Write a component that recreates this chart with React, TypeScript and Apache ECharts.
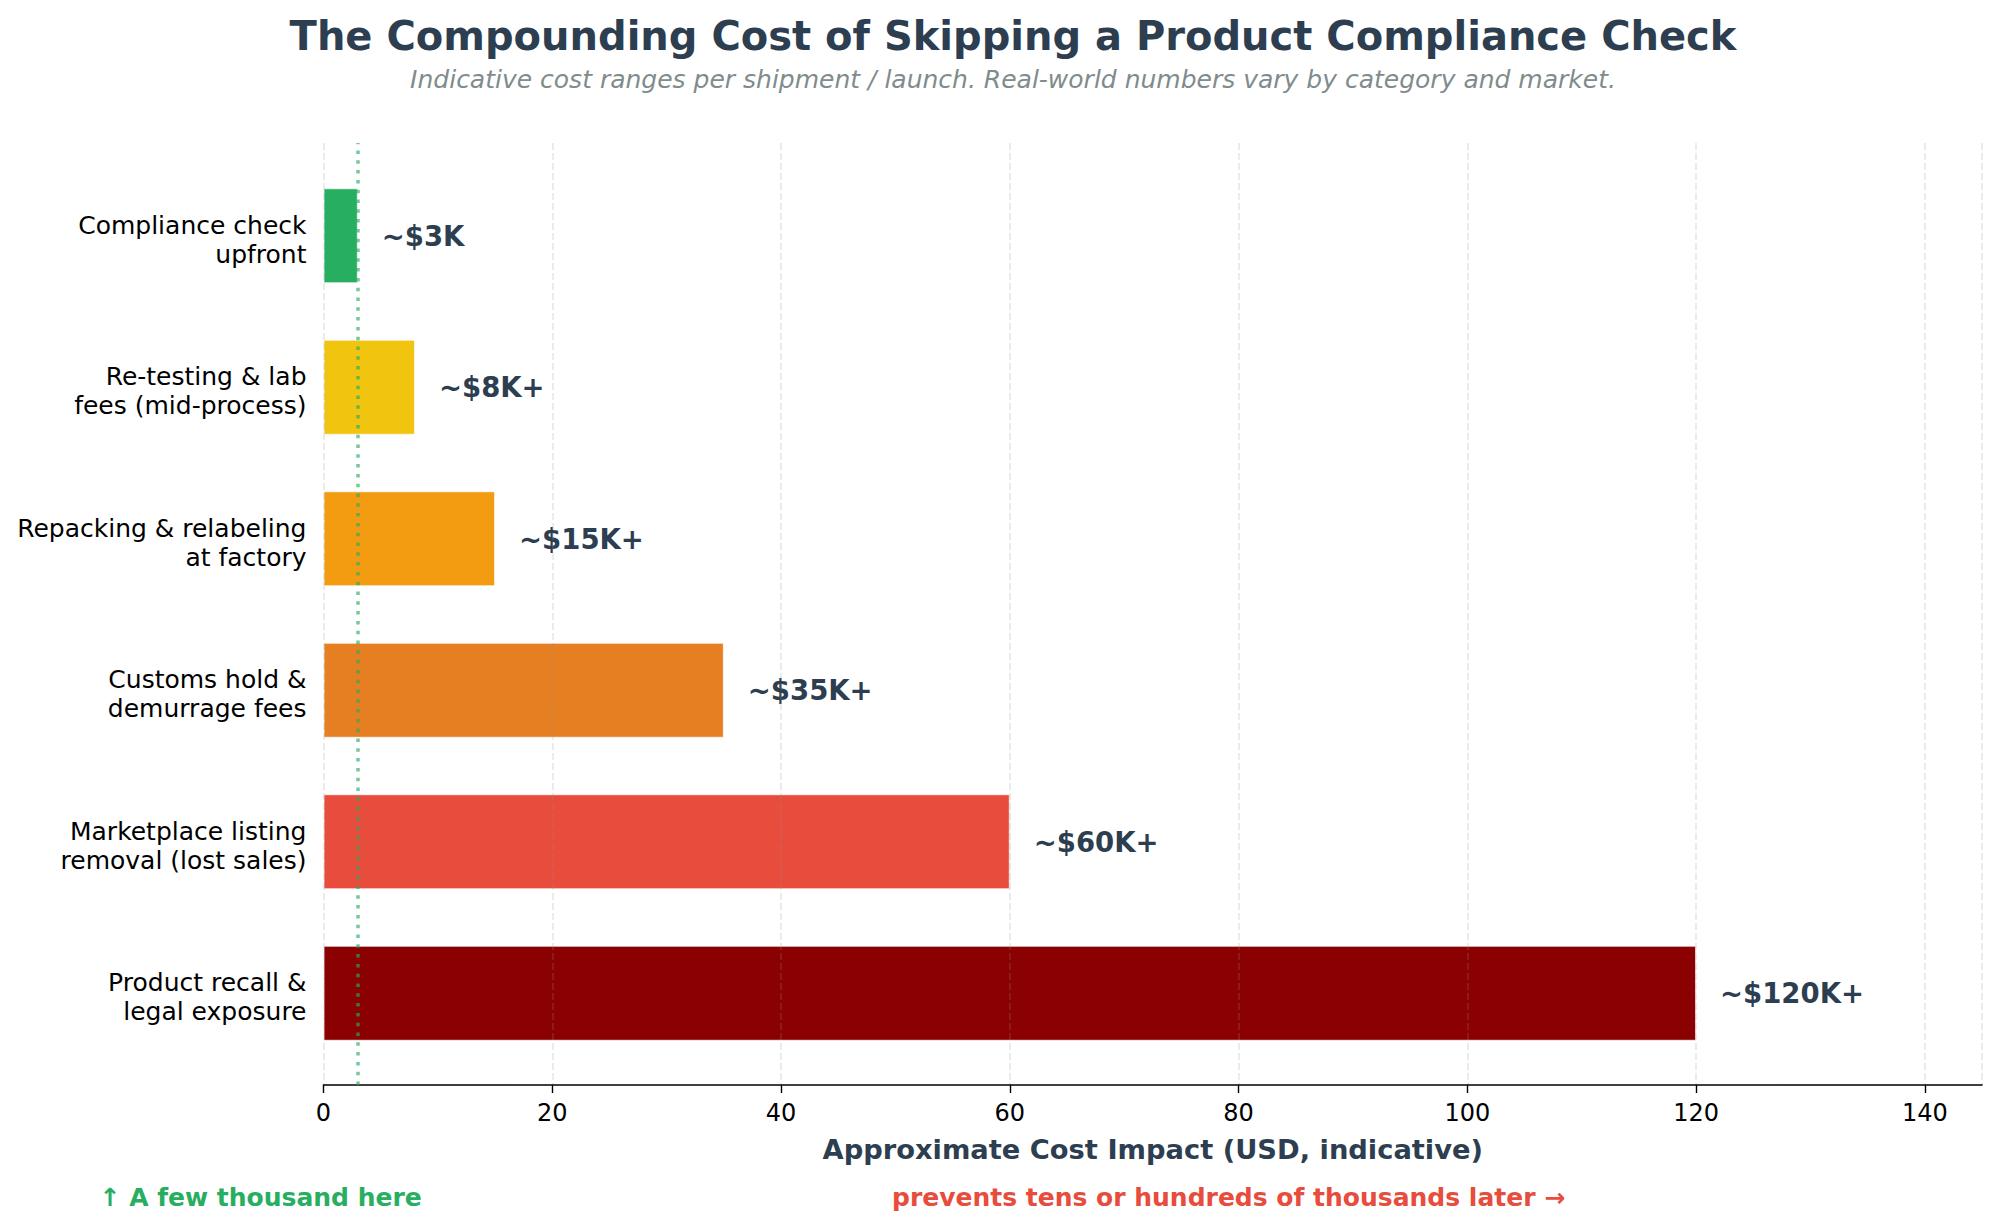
import React, { useEffect, useRef } from 'react';
import * as echarts from 'echarts';

const categories = [
  'Compliance check\nupfront',
  'Re-testing & lab\nfees (mid-process)',
  'Repacking & relabeling\nat factory',
  'Customs hold &\ndemurrage fees',
  'Marketplace listing\nremoval (lost sales)',
  'Product recall &\nlegal exposure',
];
const costs = [3, 8, 15, 35, 60, 120];
const costLabels = ['~$3K', '~$8K+', '~$15K+', '~$35K+', '~$60K+', '~$120K+'];
const barColors = ['#27ae60', '#f1c40f', '#f39c12', '#e67e22', '#e74c3c', '#8b0000'];

const TITLE = 'The Compounding Cost of Skipping a Product Compliance Check';
const SUBTITLE = 'Indicative cost ranges per shipment / launch. Real-world numbers vary by category and market.';
const X_NAME = 'Approximate Cost Impact (USD, indicative)';
const NOTE_LEFT = '↑ A few thousand here';
const NOTE_RIGHT = 'prevents tens or hundreds of thousands later →';

const FONT = '"DejaVu Sans", sans-serif';
const DARK = '#2c3e50';
const X_MAX = 145;

// a thin empty line on top nudges the two-line label a few px down, like matplotlib does
const catLabel = (v: string) => '{s| }\n' + v.split('\n').map((l) => `{a|${l}}`).join('\n');

export default function App() {
  const ref = useRef<HTMLDivElement | null>(null);

  useEffect(() => {
    if (!ref.current) return;
    const chart = echarts.init(ref.current, undefined, { renderer: 'svg' });
    chart.setOption({
      animation: false,
      backgroundColor: '#ffffff',
      textStyle: { fontFamily: FONT },
      grid: [
        { left: 323.5, right: 17, top: 160, height: 909 },
        { left: 323.5, right: 17, top: 143, height: 942 },
      ],
      xAxis: [
        { type: 'value', gridIndex: 0, min: 0, max: X_MAX, show: false },
        {
          type: 'value',
          gridIndex: 1,
          min: 0,
          max: X_MAX,
          interval: 20,
          z: 3,
          axisLine: { lineStyle: { color: '#000', width: 1.6 } },
          axisTick: { show: true, length: 8, lineStyle: { color: '#000', width: 1.4 } },
          axisLabel: { color: '#000', fontSize: 24, fontFamily: FONT, margin: 16, showMaxLabel: false },
          splitLine: { show: true, lineStyle: { color: 'rgba(150,150,150,0.25)', width: 1.5, type: [7, 3] } },
          name: X_NAME,
          nameLocation: 'middle',
          nameGap: 51,
          nameTextStyle: { color: DARK, fontSize: 27.3, fontWeight: 'bold', fontFamily: FONT },
        },
      ],
      yAxis: [
        {
          type: 'category',
          gridIndex: 0,
          data: categories,
          inverse: true,
          axisLine: { show: false },
          axisTick: { show: false },
          axisLabel: {
            margin: 17,
            align: 'right',
            formatter: catLabel,
            rich: {
              s: { fontSize: 2, lineHeight: 8 },
              a: { color: '#000', fontSize: 25, lineHeight: 29, fontFamily: FONT, align: 'right' },
            },
          },
        },
        { type: 'value', gridIndex: 1, min: 0, max: 1, show: false },
      ],
      series: [
        {
          type: 'bar',
          xAxisIndex: 0,
          yAxisIndex: 0,
          barWidth: 95,
          data: costs.map((v, i) => ({ value: v, itemStyle: { color: barColors[i] } })),
          itemStyle: { borderColor: 'rgba(255,255,255,0.7)', borderWidth: 1 },
          label: {
            show: true,
            position: 'right',
            distance: 24,
            formatter: (p: any) => costLabels[p.dataIndex],
            color: DARK,
            fontSize: 27.5,
            fontWeight: 'bold',
            fontFamily: FONT,
          },
        },
        {
          type: 'line',
          xAxisIndex: 1,
          yAxisIndex: 1,
          data: [],
          z: 5,
          silent: true,
          markLine: {
            silent: true,
            symbol: 'none',
            label: { show: false },
            lineStyle: { color: 'rgba(39,174,96,0.65)', width: 3.5, type: [3.5, 6.3], cap: 'butt' },
            data: [{ xAxis: costs[0] }],
          },
        },
      ],
      graphic: [
        {
          type: 'text',
          x: 1013,
          y: 36,
          style: {
            text: TITLE,
            fill: DARK,
            font: `bold 40px ${FONT}`,
            textAlign: 'center',
            textVerticalAlign: 'middle',
          },
        },
        {
          type: 'text',
          x: 1013,
          y: 79,
          style: {
            text: SUBTITLE,
            fill: '#7f8c8d',
            font: `italic 25px ${FONT}`,
            textAlign: 'center',
            textVerticalAlign: 'middle',
          },
        },
        {
          type: 'text',
          x: 99.5,
          y: 1197,
          style: {
            text: NOTE_LEFT,
            fill: '#27ae60',
            font: `bold 25px ${FONT}`,
            textAlign: 'left',
            textVerticalAlign: 'middle',
          },
        },
        {
          type: 'text',
          x: 892,
          y: 1197,
          style: {
            text: NOTE_RIGHT,
            fill: '#e74c3c',
            font: `bold 25px ${FONT}`,
            textAlign: 'left',
            textVerticalAlign: 'middle',
          },
        },
      ],
    });
    return () => chart.dispose();
  }, []);

  return (
    <div
      ref={ref}
      style={{ position: 'fixed', left: 0, top: 0, width: 1999, height: 1230, background: '#fff' }}
    />
  );
}
